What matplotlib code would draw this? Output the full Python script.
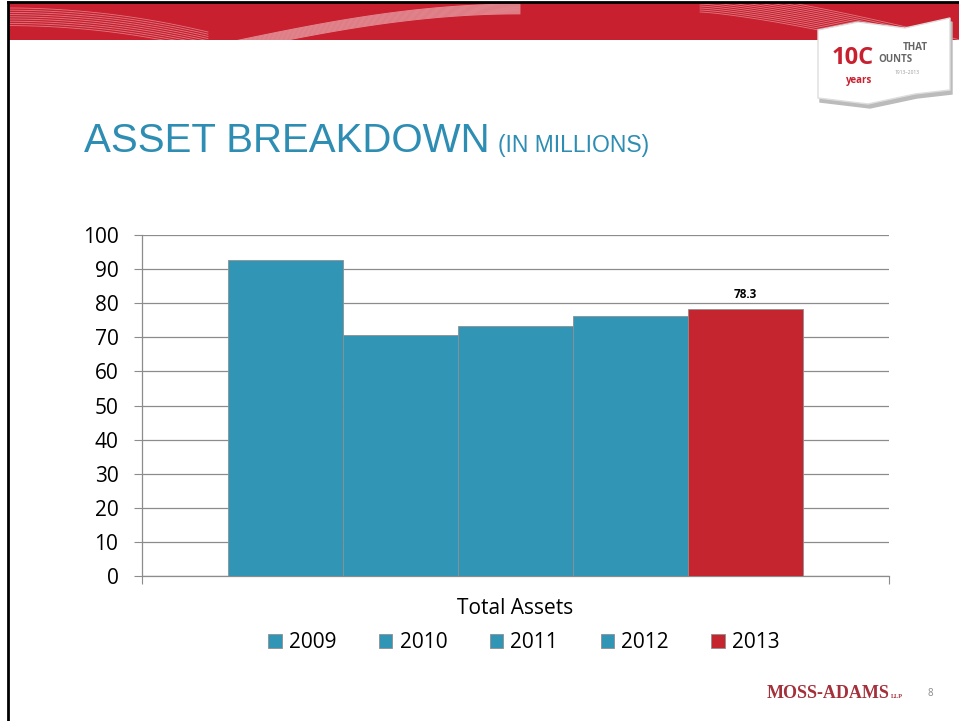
import matplotlib
matplotlib.use('Agg')
import matplotlib.pyplot as plt
import numpy as np
from matplotlib.patches import Polygon

# データ
category = "Total Assets"
years = ["2009", "2010", "2011", "2012", "2013"]
values = [92.7, 70.6, 73.4, 76.2, 78.3]
bar_colors = ["#3195B5", "#3195B5", "#3195B5", "#3195B5", "#C4252F"]
yticks = [0, 10, 20, 30, 40, 50, 60, 70, 80, 90, 100]

W, H = 959, 721
TEAL = "#2E8DB3"
RED = "#C8202F"

plt.rcParams['font.family'] = ['Open Sans', 'DejaVu Sans']

fig = plt.figure(figsize=(W / 100, H / 100), dpi=100, facecolor='w')

def fx(px):
    return px / W

def fy(py):
    return 1 - py / H

# ヘッダー帯（ピクセル座標の装飾用axes）
band = fig.add_axes([fx(8), fy(40), 1 - fx(8), fy(3) - fy(40)])
band.set_xlim(8, 959)
band.set_ylim(40, 3)
band.set_axis_off()
band.add_patch(plt.Rectangle((8, 3), 951, 37, color=RED, zorder=0))
t = np.linspace(0, 1, 80)
for k in range(9):
    band.plot(8 + 200 * t, 8 + k * 2.2 + 24 * t ** 2, color='w', lw=0.6, alpha=0.4)
for k in range(12):
    band.plot(220 + 300 * t, 44 + k * 0.9 - 40 * np.sin(t * np.pi / 2), color='w', lw=0.6, alpha=0.5)
for k in range(12):
    band.plot(700 + 260 * t, -10 + 50 * t ** 1.3 + k * 2.0, color='w', lw=0.6, alpha=0.4)

# 黒枠
fig.lines.append(plt.Line2D([fx(8), fx(8)], [0, fy(2)], transform=fig.transFigure, color='k', lw=2))
fig.lines.append(plt.Line2D([fx(8), 1], [fy(2), fy(2)], transform=fig.transFigure, color='k', lw=2))

# ロゴの旗
flag = [(818, 30), (858, 22), (905, 28), (950, 18), (950, 90), (915, 94), (868, 104), (818, 98)]
shadow = [(p[0] + 2, p[1] + 4) for p in flag]
fig.patches.append(Polygon([(fx(a), fy(b)) for a, b in shadow], closed=True,
                           transform=fig.transFigure, color='#bbbbbb', zorder=1))
fig.patches.append(Polygon([(fx(a), fy(b)) for a, b in flag], closed=True,
                           transform=fig.transFigure, facecolor='w', edgecolor='#dddddd', zorder=2))
fig.text(fx(832), fy(58), "10C", color=RED, fontsize=17, fontweight='bold', va='center', ha='left', zorder=3)
fig.text(fx(903), fy(47), "THAT", color='#666666', fontsize=7, fontweight='bold', va='center', ha='left', zorder=3)
fig.text(fx(878), fy(60), "OUNTS", color='#666666', fontsize=7, fontweight='bold', va='center', ha='left', zorder=3)
fig.text(fx(846), fy(81), "years", color=RED, fontsize=7, fontweight='bold', va='center', ha='left', zorder=3)
fig.text(fx(895), fy(73), "1913\u20132013", color='#999999', fontsize=3.5, va='center', ha='left', zorder=3)

# タイトル
fig.text(fx(84), fy(152), "ASSET BREAKDOWN", color=TEAL, fontsize=29, family='Liberation Sans',
         va='baseline', ha='left')
fig.text(fx(498), fy(152), "(IN MILLIONS)", color=TEAL, fontsize=16.5, family='Liberation Sans',
         va='baseline', ha='left')

# グラフ本体
ax = fig.add_axes([fx(142), fy(576), fx(889) - fx(142), fy(235) - fy(576)])
w = 0.154
handles = []
for i, (yr, v, c) in enumerate(zip(years, values, bar_colors)):
    b = ax.bar((i - 2) * w, v, width=w, color=c, edgecolor='#8f8f8f', linewidth=0.6,
               label=yr, zorder=3)
    handles.append(b)
ax.text((4 - 2) * w, values[4] + 2.2, f"{values[4]}", ha='center', va='bottom',
        fontsize=8.5, fontweight='bold', color='k')

ax.set_xlim(-0.5, 0.5)
ax.set_ylim(0, 100)
ax.set_yticks(yticks)
ax.set_yticklabels([str(v) for v in yticks], fontsize=15)
ax.yaxis.grid(True, color='#8c8c8c', lw=0.9, zorder=0)
ax.tick_params(axis='y', direction='out', length=6, color='#8c8c8c', pad=11)
ax.set_xticks([-0.5, 0.5])
ax.set_xticklabels(["", ""])
ax.tick_params(axis='x', which='major', direction='out', length=6, color='#8c8c8c')
ax.set_xticks([0], minor=True)
ax.set_xticklabels([category], minor=True, fontsize=15)
ax.tick_params(axis='x', which='minor', length=0, pad=16)
for s in ['top', 'right']:
    ax.spines[s].set_visible(False)
for s in ['left', 'bottom']:
    ax.spines[s].set_color('#8c8c8c')
    ax.spines[s].set_linewidth(0.9)

fig.legend(handles=handles, labels=years, loc='center', bbox_to_anchor=(fx(524), fy(643)),
           ncol=5, frameon=False, fontsize=15, handlelength=0.65, handleheight=0.65,
           handletextpad=0.35, columnspacing=2.03)

# フッター
fig.text(fx(767), fy(694), "MOSS-ADAMS", color='#A3303B', fontsize=13, family='Liberation Serif',
         fontweight='bold', va='center', ha='left')
fig.text(fx(891), fy(697), "LLP", color='#A3303B', fontsize=4.5, family='Liberation Serif',
         fontweight='bold', va='center', ha='left')
fig.text(fx(928), fy(694), "8", color='#888888', fontsize=7, va='center', ha='left')

fig.savefig('out.png', dpi=100, facecolor='w')
